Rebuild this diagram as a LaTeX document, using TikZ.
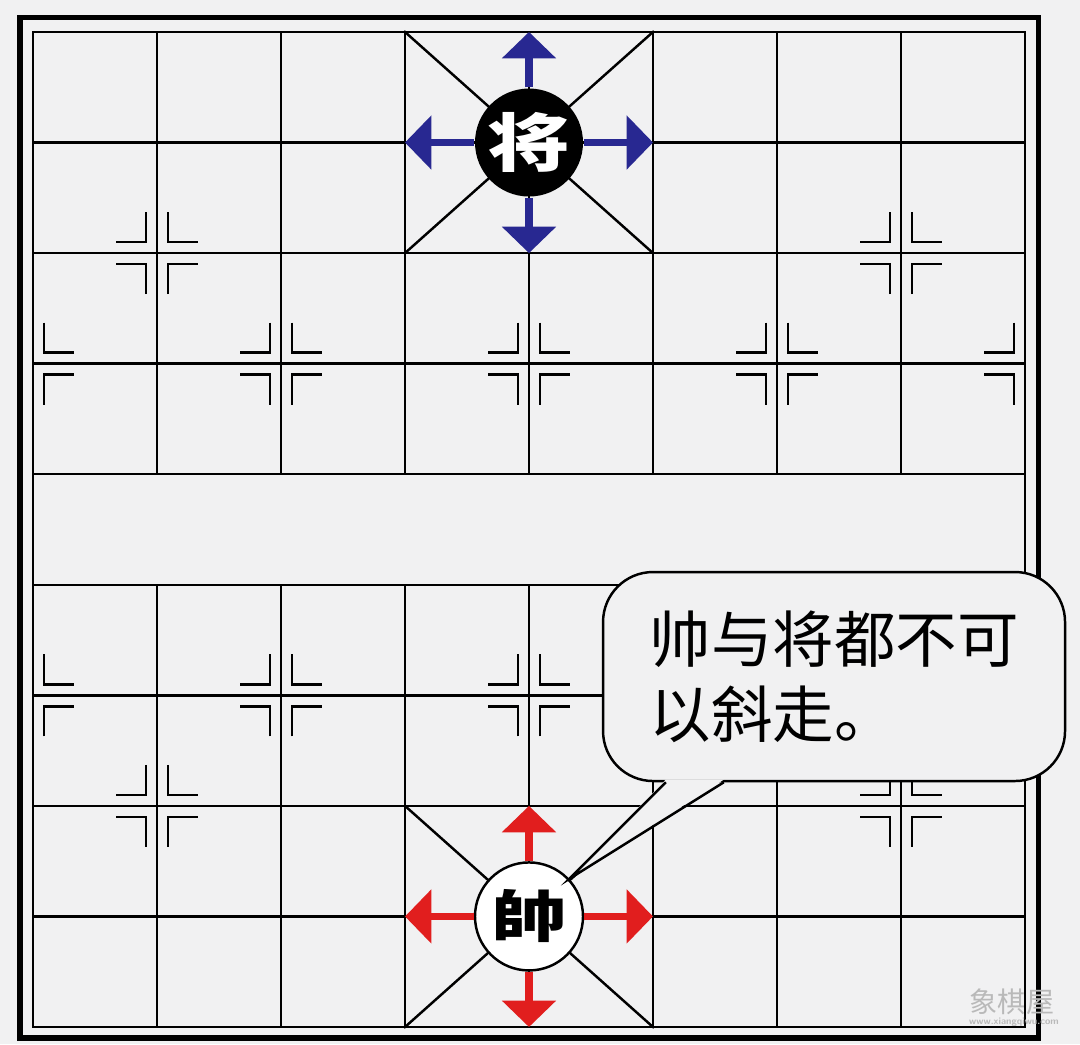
\documentclass[tikz,border=0pt]{standalone}
\usepackage{fontspec}
\usetikzlibrary{arrows.meta}
\newfontfamily\cjk{Noto Sans CJK SC}
\definecolor{boardbg}{RGB}{241,241,242}
\definecolor{jiangblue}{RGB}{40,40,145}
\definecolor{shuaired}{RGB}{225,30,30}
\tikzset{
  gridline/.style={line width=1.4pt, line cap=rect},
  starcorner/.pic={\draw[line width=1.4pt] (0.22cm,0.82cm) -- (0.22cm,0.22cm) -- (0.82cm,0.22cm);},
  movearrow/.style={line width=4pt, -{Triangle[width=30pt,length=15pt]}},
  piece/.style={circle, minimum size=2.16cm, inner sep=0pt, line width=1.4pt, font=\cjk\bfseries},
}

\begin{document}
\begin{tikzpicture}[x=2.48cm, y=2.2112cm]

\fill[boardbg, use as bounding box] (-0.2661,-0.1538) rectangle (8.4435,9.2891);
\draw[line width=3.1pt] (-0.1048,-0.0995) rectangle (8.1105,9.1308);

\foreach \c in {0,...,8}
  \foreach \r in {0,...,9}
    \coordinate (p\c\r) at (\c,\r);

\foreach \r in {0,...,9}
  \draw[gridline] (p0\r) -- (p8\r);
\draw[gridline] (p00) -- (p09);
\draw[gridline] (p80) -- (p89);
\foreach \c in {1,...,7} {
  \draw[gridline] (p\c0) -- (p\c4);
  \draw[gridline] (p\c5) -- (p\c9);
}
\draw[gridline] (p30) -- (p52) (p50) -- (p32);
\draw[gridline] (p37) -- (p59) (p57) -- (p39);

\foreach \c/\r in {1/2,7/2,1/7,7/7,2/3,4/3,6/3,2/6,4/6,6/6}
  \foreach \sx/\sy in {1/1,1/-1,-1/1,-1/-1}
    \pic[xscale=\sx,yscale=\sy] at (p\c\r) {starcorner};
\foreach \r in {3,6}
  \foreach \sy in {1,-1} {
    \pic[yscale=\sy] at (p0\r) {starcorner};
    \pic[xscale=-1,yscale=\sy] at (p8\r) {starcorner};
  }

\node[piece, fill=black, text=white] (jiang) at (p48) {\fontsize{36pt}{36pt}\selectfont\scalebox{1.3}[1]{将}};
\node[piece, draw=black, fill=white] (shuai) at (p41) {\fontsize{32pt}{32pt}\selectfont\scalebox{1.35}[1]{帥}};

\foreach \t in {p49,p47,p38,p58}
  \draw[movearrow, jiangblue] (jiang) -- (\t);
\foreach \t in {p42,p40,p31,p51}
  \draw[movearrow, shuaired] (shuai) -- (\t);

\node[draw, fill=boardbg, rounded corners=1cm, line width=1.4pt, minimum width=9.24cm, minimum height=4.18cm,
  align=left, font={\cjk\fontsize{35pt}{42.5pt}\selectfont}] (bubble) at (6.46,3.17) {帅与将都不可\\以斜走。};
\coordinate (tailL) at ([xshift=1.28cm]bubble.south west);
\coordinate (tailR) at ([xshift=2.44cm]bubble.south west);
\fill[boardbg] ([yshift=1.5pt]tailL) -- (shuai.43) -- ([yshift=1.5pt]tailR) -- cycle;
\draw[line width=1.4pt] (tailL) -- (shuai.43) -- (tailR);

\node[text=gray!55, font={\cjk\fontsize{16pt}{16pt}\selectfont}] (wm) at (7.895,0.226) {象棋屋};
\node[text=gray!55, font={\sffamily\bfseries\fontsize{5.5pt}{6pt}\selectfont}] (wmurl) at (7.911,0.045) {www.xiangqiwu.com};

\end{tikzpicture}
\end{document}
